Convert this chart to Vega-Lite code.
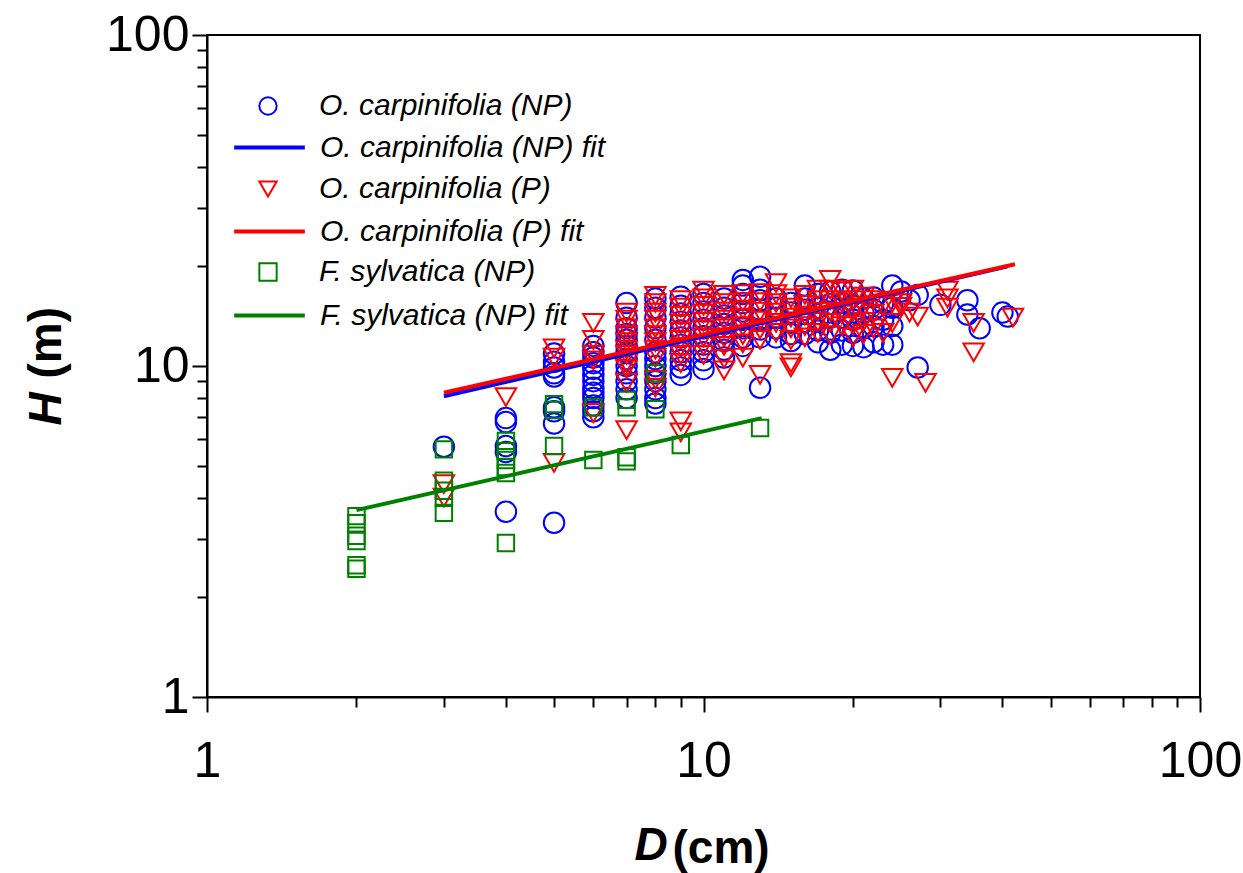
{
  "$schema": "https://vega.github.io/schema/vega-lite/v6.json",
  "width": 993,
  "height": 662,
  "autosize": "none",
  "padding": {"left": 207, "top": 35, "right": 43, "bottom": 176},
  "background": "white",
  "config": {"view": {"stroke": "black", "strokeWidth": 2}, "font": "Liberation Sans"},
  "datasets": {
    "pts": [
      {"series":"O. carpinifolia (NP)","D":3,"H":5.7},
      {"series":"O. carpinifolia (NP)","D":4,"H":6.96},{"series":"O. carpinifolia (NP)","D":4,"H":6.77},{"series":"O. carpinifolia (NP)","D":4,"H":5.73},{"series":"O. carpinifolia (NP)","D":4,"H":5.5},{"series":"O. carpinifolia (NP)","D":4,"H":3.63},
      {"series":"O. carpinifolia (NP)","D":5,"H":10.9},{"series":"O. carpinifolia (NP)","D":5,"H":10.3},{"series":"O. carpinifolia (NP)","D":5,"H":9.9},{"series":"O. carpinifolia (NP)","D":5,"H":9.5},{"series":"O. carpinifolia (NP)","D":5,"H":9.3},{"series":"O. carpinifolia (NP)","D":5,"H":7.5},{"series":"O. carpinifolia (NP)","D":5,"H":7.3},{"series":"O. carpinifolia (NP)","D":5,"H":6.7},{"series":"O. carpinifolia (NP)","D":5,"H":3.36},
      {"series":"O. carpinifolia (NP)","D":6,"H":11.5},{"series":"O. carpinifolia (NP)","D":6,"H":11.0},{"series":"O. carpinifolia (NP)","D":6,"H":10.6},{"series":"O. carpinifolia (NP)","D":6,"H":10.2},{"series":"O. carpinifolia (NP)","D":6,"H":9.8},{"series":"O. carpinifolia (NP)","D":6,"H":9.4},{"series":"O. carpinifolia (NP)","D":6,"H":9.0},{"series":"O. carpinifolia (NP)","D":6,"H":8.6},{"series":"O. carpinifolia (NP)","D":6,"H":8.3},{"series":"O. carpinifolia (NP)","D":6,"H":8.0},{"series":"O. carpinifolia (NP)","D":6,"H":7.6},{"series":"O. carpinifolia (NP)","D":6,"H":7.3},{"series":"O. carpinifolia (NP)","D":6,"H":7.0},
      {"series":"O. carpinifolia (NP)","D":7,"H":15.5},{"series":"O. carpinifolia (NP)","D":7,"H":14.0},{"series":"O. carpinifolia (NP)","D":7,"H":13.0},{"series":"O. carpinifolia (NP)","D":7,"H":12.5},{"series":"O. carpinifolia (NP)","D":7,"H":12.0},{"series":"O. carpinifolia (NP)","D":7,"H":11.5},{"series":"O. carpinifolia (NP)","D":7,"H":11.0},{"series":"O. carpinifolia (NP)","D":7,"H":10.5},{"series":"O. carpinifolia (NP)","D":7,"H":10.0},{"series":"O. carpinifolia (NP)","D":7,"H":9.5},{"series":"O. carpinifolia (NP)","D":7,"H":9.0},{"series":"O. carpinifolia (NP)","D":7,"H":8.5},{"series":"O. carpinifolia (NP)","D":7,"H":8.0},
      {"series":"O. carpinifolia (NP)","D":8,"H":16.0},{"series":"O. carpinifolia (NP)","D":8,"H":15.0},{"series":"O. carpinifolia (NP)","D":8,"H":14.0},{"series":"O. carpinifolia (NP)","D":8,"H":13.0},{"series":"O. carpinifolia (NP)","D":8,"H":12.0},{"series":"O. carpinifolia (NP)","D":8,"H":11.0},{"series":"O. carpinifolia (NP)","D":8,"H":10.5},{"series":"O. carpinifolia (NP)","D":8,"H":10.0},{"series":"O. carpinifolia (NP)","D":8,"H":9.5},{"series":"O. carpinifolia (NP)","D":8,"H":9.0},{"series":"O. carpinifolia (NP)","D":8,"H":8.5},{"series":"O. carpinifolia (NP)","D":8,"H":8.0},{"series":"O. carpinifolia (NP)","D":8,"H":7.7},
      {"series":"O. carpinifolia (NP)","D":9,"H":16.2},{"series":"O. carpinifolia (NP)","D":9,"H":15.2},{"series":"O. carpinifolia (NP)","D":9,"H":14.4},{"series":"O. carpinifolia (NP)","D":9,"H":13.6},{"series":"O. carpinifolia (NP)","D":9,"H":12.8},{"series":"O. carpinifolia (NP)","D":9,"H":12.2},{"series":"O. carpinifolia (NP)","D":9,"H":11.6},{"series":"O. carpinifolia (NP)","D":9,"H":11.0},{"series":"O. carpinifolia (NP)","D":9,"H":10.4},{"series":"O. carpinifolia (NP)","D":9,"H":9.9},{"series":"O. carpinifolia (NP)","D":9,"H":9.4},
      {"series":"O. carpinifolia (NP)","D":10,"H":16.5},{"series":"O. carpinifolia (NP)","D":10,"H":15.5},{"series":"O. carpinifolia (NP)","D":10,"H":14.6},{"series":"O. carpinifolia (NP)","D":10,"H":13.8},{"series":"O. carpinifolia (NP)","D":10,"H":13.0},{"series":"O. carpinifolia (NP)","D":10,"H":12.3},{"series":"O. carpinifolia (NP)","D":10,"H":11.6},{"series":"O. carpinifolia (NP)","D":10,"H":11.0},{"series":"O. carpinifolia (NP)","D":10,"H":10.4},{"series":"O. carpinifolia (NP)","D":10,"H":9.8},
      {"series":"O. carpinifolia (NP)","D":11,"H":16.0},{"series":"O. carpinifolia (NP)","D":11,"H":15.0},{"series":"O. carpinifolia (NP)","D":11,"H":14.2},{"series":"O. carpinifolia (NP)","D":11,"H":13.4},{"series":"O. carpinifolia (NP)","D":11,"H":12.6},{"series":"O. carpinifolia (NP)","D":11,"H":11.9},{"series":"O. carpinifolia (NP)","D":11,"H":11.2},{"series":"O. carpinifolia (NP)","D":11,"H":10.6},
      {"series":"O. carpinifolia (NP)","D":12,"H":18.2},{"series":"O. carpinifolia (NP)","D":12,"H":17.5},{"series":"O. carpinifolia (NP)","D":12,"H":16.5},{"series":"O. carpinifolia (NP)","D":12,"H":15.5},{"series":"O. carpinifolia (NP)","D":12,"H":14.6},{"series":"O. carpinifolia (NP)","D":12,"H":13.8},{"series":"O. carpinifolia (NP)","D":12,"H":13.0},{"series":"O. carpinifolia (NP)","D":12,"H":12.2},{"series":"O. carpinifolia (NP)","D":12,"H":11.5},
      {"series":"O. carpinifolia (NP)","D":13,"H":18.6},{"series":"O. carpinifolia (NP)","D":13,"H":17.0},{"series":"O. carpinifolia (NP)","D":13,"H":15.8},{"series":"O. carpinifolia (NP)","D":13,"H":14.8},{"series":"O. carpinifolia (NP)","D":13,"H":13.8},{"series":"O. carpinifolia (NP)","D":13,"H":12.9},{"series":"O. carpinifolia (NP)","D":13,"H":12.2},{"series":"O. carpinifolia (NP)","D":13,"H":8.6},
      {"series":"O. carpinifolia (NP)","D":14,"H":16.0},{"series":"O. carpinifolia (NP)","D":14,"H":15.0},{"series":"O. carpinifolia (NP)","D":14,"H":14.0},{"series":"O. carpinifolia (NP)","D":14,"H":13.0},{"series":"O. carpinifolia (NP)","D":14,"H":12.2},
      {"series":"O. carpinifolia (NP)","D":15,"H":15.5},{"series":"O. carpinifolia (NP)","D":15,"H":14.5},{"series":"O. carpinifolia (NP)","D":15,"H":13.5},{"series":"O. carpinifolia (NP)","D":15,"H":12.5},{"series":"O. carpinifolia (NP)","D":15,"H":11.9},
      {"series":"O. carpinifolia (NP)","D":16,"H":17.5},{"series":"O. carpinifolia (NP)","D":16,"H":16.0},{"series":"O. carpinifolia (NP)","D":16,"H":14.8},{"series":"O. carpinifolia (NP)","D":16,"H":13.6},{"series":"O. carpinifolia (NP)","D":16,"H":12.5},
      {"series":"O. carpinifolia (NP)","D":17,"H":16.5},{"series":"O. carpinifolia (NP)","D":17,"H":15.0},{"series":"O. carpinifolia (NP)","D":17,"H":13.8},{"series":"O. carpinifolia (NP)","D":17,"H":12.8},{"series":"O. carpinifolia (NP)","D":17,"H":11.8},
      {"series":"O. carpinifolia (NP)","D":18,"H":16.8},{"series":"O. carpinifolia (NP)","D":18,"H":15.4},{"series":"O. carpinifolia (NP)","D":18,"H":14.0},{"series":"O. carpinifolia (NP)","D":18,"H":12.6},{"series":"O. carpinifolia (NP)","D":18,"H":11.2},
      {"series":"O. carpinifolia (NP)","D":19,"H":17.0},{"series":"O. carpinifolia (NP)","D":19,"H":15.5},{"series":"O. carpinifolia (NP)","D":19,"H":14.0},{"series":"O. carpinifolia (NP)","D":19,"H":12.8},{"series":"O. carpinifolia (NP)","D":19,"H":11.6},
      {"series":"O. carpinifolia (NP)","D":20,"H":16.9},{"series":"O. carpinifolia (NP)","D":20,"H":15.2},{"series":"O. carpinifolia (NP)","D":20,"H":13.8},{"series":"O. carpinifolia (NP)","D":20,"H":12.6},{"series":"O. carpinifolia (NP)","D":20,"H":11.5},
      {"series":"O. carpinifolia (NP)","D":21,"H":16.0},{"series":"O. carpinifolia (NP)","D":21,"H":14.5},{"series":"O. carpinifolia (NP)","D":21,"H":13.0},{"series":"O. carpinifolia (NP)","D":21,"H":11.4},
      {"series":"O. carpinifolia (NP)","D":22,"H":16.1},{"series":"O. carpinifolia (NP)","D":22,"H":14.8},{"series":"O. carpinifolia (NP)","D":22,"H":13.2},{"series":"O. carpinifolia (NP)","D":22,"H":11.8},
      {"series":"O. carpinifolia (NP)","D":23,"H":15.5},{"series":"O. carpinifolia (NP)","D":23,"H":13.8},{"series":"O. carpinifolia (NP)","D":23,"H":11.6},
      {"series":"O. carpinifolia (NP)","D":24,"H":17.5},{"series":"O. carpinifolia (NP)","D":24,"H":15.0},{"series":"O. carpinifolia (NP)","D":24,"H":13.2},{"series":"O. carpinifolia (NP)","D":24,"H":11.6},
      {"series":"O. carpinifolia (NP)","D":25,"H":16.8},{"series":"O. carpinifolia (NP)","D":26,"H":15.8},{"series":"O. carpinifolia (NP)","D":27,"H":16.4},{"series":"O. carpinifolia (NP)","D":27,"H":9.9},
      {"series":"O. carpinifolia (NP)","D":30,"H":15.3},{"series":"O. carpinifolia (NP)","D":34,"H":15.8},{"series":"O. carpinifolia (NP)","D":34,"H":14.3},{"series":"O. carpinifolia (NP)","D":36,"H":13.0},{"series":"O. carpinifolia (NP)","D":40,"H":14.5},{"series":"O. carpinifolia (NP)","D":41,"H":14.1},

      {"series":"O. carpinifolia (P)","D":3,"H":4.4},{"series":"O. carpinifolia (P)","D":3,"H":4.0},
      {"series":"O. carpinifolia (P)","D":4,"H":8.06},
      {"series":"O. carpinifolia (P)","D":5,"H":11.3},{"series":"O. carpinifolia (P)","D":5,"H":10.6},{"series":"O. carpinifolia (P)","D":5,"H":5.1},
      {"series":"O. carpinifolia (P)","D":6,"H":13.5},{"series":"O. carpinifolia (P)","D":6,"H":12.0},{"series":"O. carpinifolia (P)","D":6,"H":10.8},{"series":"O. carpinifolia (P)","D":6,"H":10.4},{"series":"O. carpinifolia (P)","D":6,"H":7.2},
      {"series":"O. carpinifolia (P)","D":7,"H":14.5},{"series":"O. carpinifolia (P)","D":7,"H":13.8},{"series":"O. carpinifolia (P)","D":7,"H":13.0},{"series":"O. carpinifolia (P)","D":7,"H":12.4},{"series":"O. carpinifolia (P)","D":7,"H":11.8},{"series":"O. carpinifolia (P)","D":7,"H":11.2},{"series":"O. carpinifolia (P)","D":7,"H":10.8},{"series":"O. carpinifolia (P)","D":7,"H":10.2},{"series":"O. carpinifolia (P)","D":7,"H":9.8},{"series":"O. carpinifolia (P)","D":7,"H":8.9},{"series":"O. carpinifolia (P)","D":7,"H":6.4},
      {"series":"O. carpinifolia (P)","D":8,"H":16.3},{"series":"O. carpinifolia (P)","D":8,"H":15.5},{"series":"O. carpinifolia (P)","D":8,"H":14.5},{"series":"O. carpinifolia (P)","D":8,"H":13.8},{"series":"O. carpinifolia (P)","D":8,"H":13.0},{"series":"O. carpinifolia (P)","D":8,"H":12.4},{"series":"O. carpinifolia (P)","D":8,"H":11.8},{"series":"O. carpinifolia (P)","D":8,"H":11.2},{"series":"O. carpinifolia (P)","D":8,"H":10.6},{"series":"O. carpinifolia (P)","D":8,"H":9.1},{"series":"O. carpinifolia (P)","D":8,"H":8.6},
      {"series":"O. carpinifolia (P)","D":9,"H":15.8},{"series":"O. carpinifolia (P)","D":9,"H":15.0},{"series":"O. carpinifolia (P)","D":9,"H":14.2},{"series":"O. carpinifolia (P)","D":9,"H":13.4},{"series":"O. carpinifolia (P)","D":9,"H":12.7},{"series":"O. carpinifolia (P)","D":9,"H":12.0},{"series":"O. carpinifolia (P)","D":9,"H":11.4},{"series":"O. carpinifolia (P)","D":9,"H":10.8},{"series":"O. carpinifolia (P)","D":9,"H":10.2},{"series":"O. carpinifolia (P)","D":9,"H":6.8},{"series":"O. carpinifolia (P)","D":9,"H":6.3},
      {"series":"O. carpinifolia (P)","D":10,"H":16.9},{"series":"O. carpinifolia (P)","D":10,"H":16.0},{"series":"O. carpinifolia (P)","D":10,"H":15.2},{"series":"O. carpinifolia (P)","D":10,"H":14.4},{"series":"O. carpinifolia (P)","D":10,"H":13.6},{"series":"O. carpinifolia (P)","D":10,"H":12.9},{"series":"O. carpinifolia (P)","D":10,"H":12.2},{"series":"O. carpinifolia (P)","D":10,"H":11.5},{"series":"O. carpinifolia (P)","D":10,"H":10.8},
      {"series":"O. carpinifolia (P)","D":11,"H":16.4},{"series":"O. carpinifolia (P)","D":11,"H":15.5},{"series":"O. carpinifolia (P)","D":11,"H":14.6},{"series":"O. carpinifolia (P)","D":11,"H":13.8},{"series":"O. carpinifolia (P)","D":11,"H":13.0},{"series":"O. carpinifolia (P)","D":11,"H":12.2},{"series":"O. carpinifolia (P)","D":11,"H":11.5},{"series":"O. carpinifolia (P)","D":11,"H":10.5},{"series":"O. carpinifolia (P)","D":11,"H":9.7},
      {"series":"O. carpinifolia (P)","D":12,"H":16.5},{"series":"O. carpinifolia (P)","D":12,"H":15.6},{"series":"O. carpinifolia (P)","D":12,"H":14.8},{"series":"O. carpinifolia (P)","D":12,"H":14.0},{"series":"O. carpinifolia (P)","D":12,"H":13.2},{"series":"O. carpinifolia (P)","D":12,"H":12.4},{"series":"O. carpinifolia (P)","D":12,"H":11.7},{"series":"O. carpinifolia (P)","D":12,"H":10.6},
      {"series":"O. carpinifolia (P)","D":13,"H":16.6},{"series":"O. carpinifolia (P)","D":13,"H":15.6},{"series":"O. carpinifolia (P)","D":13,"H":14.6},{"series":"O. carpinifolia (P)","D":13,"H":13.7},{"series":"O. carpinifolia (P)","D":13,"H":12.9},{"series":"O. carpinifolia (P)","D":13,"H":12.0},{"series":"O. carpinifolia (P)","D":13,"H":9.4},
      {"series":"O. carpinifolia (P)","D":14,"H":17.8},{"series":"O. carpinifolia (P)","D":14,"H":16.5},{"series":"O. carpinifolia (P)","D":14,"H":15.5},{"series":"O. carpinifolia (P)","D":14,"H":14.5},{"series":"O. carpinifolia (P)","D":14,"H":13.5},{"series":"O. carpinifolia (P)","D":14,"H":12.6},
      {"series":"O. carpinifolia (P)","D":15,"H":16.0},{"series":"O. carpinifolia (P)","D":15,"H":15.0},{"series":"O. carpinifolia (P)","D":15,"H":14.0},{"series":"O. carpinifolia (P)","D":15,"H":13.0},{"series":"O. carpinifolia (P)","D":15,"H":12.0},{"series":"O. carpinifolia (P)","D":15,"H":10.2},{"series":"O. carpinifolia (P)","D":15,"H":9.9},
      {"series":"O. carpinifolia (P)","D":16,"H":16.4},{"series":"O. carpinifolia (P)","D":16,"H":15.3},{"series":"O. carpinifolia (P)","D":16,"H":14.2},{"series":"O. carpinifolia (P)","D":16,"H":13.2},{"series":"O. carpinifolia (P)","D":16,"H":12.2},
      {"series":"O. carpinifolia (P)","D":17,"H":17.0},{"series":"O. carpinifolia (P)","D":17,"H":15.8},{"series":"O. carpinifolia (P)","D":17,"H":14.6},{"series":"O. carpinifolia (P)","D":17,"H":13.6},{"series":"O. carpinifolia (P)","D":17,"H":12.6},
      {"series":"O. carpinifolia (P)","D":18,"H":18.2},{"series":"O. carpinifolia (P)","D":18,"H":17.0},{"series":"O. carpinifolia (P)","D":18,"H":15.8},{"series":"O. carpinifolia (P)","D":18,"H":14.6},{"series":"O. carpinifolia (P)","D":18,"H":13.5},{"series":"O. carpinifolia (P)","D":18,"H":12.4},
      {"series":"O. carpinifolia (P)","D":19,"H":16.8},{"series":"O. carpinifolia (P)","D":19,"H":15.5},{"series":"O. carpinifolia (P)","D":19,"H":14.3},{"series":"O. carpinifolia (P)","D":19,"H":13.2},
      {"series":"O. carpinifolia (P)","D":20,"H":17.0},{"series":"O. carpinifolia (P)","D":20,"H":15.8},{"series":"O. carpinifolia (P)","D":20,"H":14.6},{"series":"O. carpinifolia (P)","D":20,"H":13.3},{"series":"O. carpinifolia (P)","D":20,"H":12.2},
      {"series":"O. carpinifolia (P)","D":21,"H":16.2},{"series":"O. carpinifolia (P)","D":21,"H":15.0},{"series":"O. carpinifolia (P)","D":21,"H":13.6},{"series":"O. carpinifolia (P)","D":21,"H":12.5},
      {"series":"O. carpinifolia (P)","D":22,"H":15.8},{"series":"O. carpinifolia (P)","D":22,"H":14.4},{"series":"O. carpinifolia (P)","D":22,"H":13.0},
      {"series":"O. carpinifolia (P)","D":23,"H":15.2},{"series":"O. carpinifolia (P)","D":23,"H":12.6},
      {"series":"O. carpinifolia (P)","D":24,"H":15.5},{"series":"O. carpinifolia (P)","D":24,"H":13.5},{"series":"O. carpinifolia (P)","D":24,"H":9.2},
      {"series":"O. carpinifolia (P)","D":25,"H":15.5},{"series":"O. carpinifolia (P)","D":25,"H":15.1},{"series":"O. carpinifolia (P)","D":26,"H":14.5},{"series":"O. carpinifolia (P)","D":27,"H":14.1},{"series":"O. carpinifolia (P)","D":28,"H":8.9},
      {"series":"O. carpinifolia (P)","D":31,"H":16.9},{"series":"O. carpinifolia (P)","D":31,"H":16.0},{"series":"O. carpinifolia (P)","D":31,"H":15.0},{"series":"O. carpinifolia (P)","D":35,"H":13.5},{"series":"O. carpinifolia (P)","D":35,"H":11.0},{"series":"O. carpinifolia (P)","D":42,"H":14.0},

      {"series":"F. sylvatica (NP)","D":2,"H":3.52},{"series":"F. sylvatica (NP)","D":2,"H":3.35},{"series":"F. sylvatica (NP)","D":2,"H":3.07},{"series":"F. sylvatica (NP)","D":2,"H":2.96},{"series":"F. sylvatica (NP)","D":2,"H":2.5},{"series":"F. sylvatica (NP)","D":2,"H":2.44},
      {"series":"F. sylvatica (NP)","D":3,"H":5.6},{"series":"F. sylvatica (NP)","D":3,"H":4.5},{"series":"F. sylvatica (NP)","D":3,"H":4.2},{"series":"F. sylvatica (NP)","D":3,"H":4.0},{"series":"F. sylvatica (NP)","D":3,"H":3.6},
      {"series":"F. sylvatica (NP)","D":4,"H":5.94},{"series":"F. sylvatica (NP)","D":4,"H":5.53},{"series":"F. sylvatica (NP)","D":4,"H":5.2},{"series":"F. sylvatica (NP)","D":4,"H":4.95},{"series":"F. sylvatica (NP)","D":4,"H":4.75},{"series":"F. sylvatica (NP)","D":4,"H":2.92},
      {"series":"F. sylvatica (NP)","D":5,"H":7.67},{"series":"F. sylvatica (NP)","D":5,"H":7.36},{"series":"F. sylvatica (NP)","D":5,"H":5.73},
      {"series":"F. sylvatica (NP)","D":6,"H":7.5},{"series":"F. sylvatica (NP)","D":6,"H":5.2},
      {"series":"F. sylvatica (NP)","D":7,"H":7.9},{"series":"F. sylvatica (NP)","D":7,"H":7.5},{"series":"F. sylvatica (NP)","D":7,"H":5.3},{"series":"F. sylvatica (NP)","D":7,"H":5.15},
      {"series":"F. sylvatica (NP)","D":8,"H":9.5},{"series":"F. sylvatica (NP)","D":8,"H":7.4},
      {"series":"F. sylvatica (NP)","D":9,"H":5.77},
      {"series":"F. sylvatica (NP)","D":13,"H":6.5}
    ],
    "fits": [
      {"series":"O. carpinifolia (NP) fit","D":3,"H":8.1},
      {"series":"O. carpinifolia (NP) fit","D":41,"H":20.0},
      {"series":"O. carpinifolia (P) fit","D":3,"H":8.3},
      {"series":"O. carpinifolia (P) fit","D":42.4,"H":20.3},
      {"series":"F. sylvatica (NP) fit","D":2,"H":3.67},
      {"series":"F. sylvatica (NP) fit","D":13.1,"H":6.96}
    ]
  },
  "layer": [
    {
      "data": {"name": "pts"},
      "mark": {"type": "point", "filled": false, "strokeWidth": 2, "opacity": 1},
      "encoding": {
        "x": {"field": "D", "type": "quantitative",
          "scale": {"type": "log", "domain": [1, 100], "nice": false},
          "axis": {"title": "D", "titleFontStyle": "italic", "titleFontWeight": "bold", "titleFontSize": 46, "titleColor": "black",
            "titleX": 427, "titleY": 162, "titleAlign": "left", "titleBaseline": "alphabetic", "titleAngle": 0,
            "values": [1,2,3,4,5,6,7,8,9,10,20,30,40,50,60,70,80,90,100],
            "labelExpr": "datum.value == 1 || datum.value == 10 || datum.value == 100 ? datum.label : ''",
            "labelFontSize": 50, "labelColor": "black", "labelPadding": 24, "labelFlush": false, "labelOverlap": false, "labelFont": "Liberation Sans",
            "tickColor": "black", "tickWidth": 2,
            "tickSize": {"condition": {"test": "datum.value == 1 || datum.value == 10 || datum.value == 100", "value": 15}, "value": 10},
            "domainColor": "black", "domainWidth": 2, "grid": false}
        },
        "y": {"field": "H", "type": "quantitative",
          "scale": {"type": "log", "domain": [1, 100], "nice": false},
          "axis": {"title": "H", "titleFontStyle": "italic", "titleFontWeight": "bold", "titleFontSize": 46, "titleColor": "black",
            "titleX": -147, "titleY": 390, "titleAlign": "left", "titleBaseline": "alphabetic", "titleAngle": 270,
            "values": [1,2,3,4,5,6,7,8,9,10,20,30,40,50,60,70,80,90,100],
            "labelExpr": "datum.value == 1 || datum.value == 10 || datum.value == 100 ? datum.label : ''",
            "labelFontSize": 50, "labelColor": "black", "labelPadding": 3, "labelFlush": false, "labelOverlap": false, "labelFont": "Liberation Sans",
            "tickColor": "black", "tickWidth": 2,
            "tickSize": {"condition": {"test": "datum.value == 1 || datum.value == 10 || datum.value == 100", "value": 15}, "value": 10},
            "domainColor": "black", "domainWidth": 2, "grid": false}
        },
        "color": {"field": "series", "type": "nominal",
          "scale": {"domain": ["O. carpinifolia (NP)", "O. carpinifolia (P)", "F. sylvatica (NP)"],
                    "range": ["#0000ff", "#ff0000", "#008000"]},
          "legend": {"title": null, "orient": "none", "legendX": 46, "legendY": 56, "padding": 0,
            "symbolSize": 300, "symbolStrokeWidth": 2,
            "labelFontSize": 30, "labelFontStyle": "italic", "labelFont": "Liberation Sans", "labelColor": "black", "labelLimit": 0,
            "labelOffset": 36, "rowPadding": 53}
        },
        "shape": {"field": "series", "type": "nominal",
          "scale": {"domain": ["O. carpinifolia (NP)", "O. carpinifolia (P)", "F. sylvatica (NP)"],
                    "range": ["circle", "triangle-down", "square"]},
          "legend": {"title": null, "orient": "none", "legendX": 46, "legendY": 56, "padding": 0,
            "symbolSize": 300, "symbolStrokeWidth": 2,
            "labelFontSize": 30, "labelFontStyle": "italic", "labelFont": "Liberation Sans", "labelColor": "black", "labelLimit": 0,
            "labelOffset": 36, "rowPadding": 53}
        },
        "size": {"condition": {"test": "datum.series == 'F. sylvatica (NP)'", "value": 270}, "value": 420}
      }
    },
    {
      "data": {"name": "fits"},
      "mark": {"type": "line", "strokeWidth": 4},
      "encoding": {
        "x": {"field": "D", "type": "quantitative",
          "axis": {"orient": "top", "title": "(cm)", "titleFontStyle": "normal", "titleFontWeight": "bold", "titleFontSize": 46, "titleColor": "black",
            "titleX": 465, "titleY": 827, "titleAlign": "left", "titleBaseline": "alphabetic", "titleAngle": 0,
            "domain": false, "ticks": false, "labels": false, "grid": false}
        },
        "y": {"field": "H", "type": "quantitative",
          "axis": {"orient": "right", "title": "(m)", "titleFontStyle": "normal", "titleFontWeight": "bold", "titleFontSize": 46, "titleColor": "black",
            "titleX": -1140, "titleY": 343, "titleAlign": "left", "titleBaseline": "alphabetic", "titleAngle": 270,
            "domain": false, "ticks": false, "labels": false, "grid": false}
        },
        "color": {"field": "series", "type": "nominal",
          "scale": {"domain": ["O. carpinifolia (NP) fit", "O. carpinifolia (P) fit", "F. sylvatica (NP) fit"],
                    "range": ["#0000ff", "#ff0000", "#008000"]},
          "legend": {"title": null, "orient": "none", "legendX": 25, "legendY": 75, "padding": 0,
            "symbolType": "stroke", "symbolSize": 5000, "symbolStrokeWidth": 4,
            "labelFontSize": 30, "labelFontStyle": "italic", "labelFont": "Liberation Sans", "labelColor": "black", "labelLimit": 0,
            "labelOffset": 13, "rowPadding": 31}
        }
      }
    }
  ],
  "resolve": {"axis": {"x": "independent", "y": "independent"}, "scale": {"color": "independent", "shape": "independent"}}
}
